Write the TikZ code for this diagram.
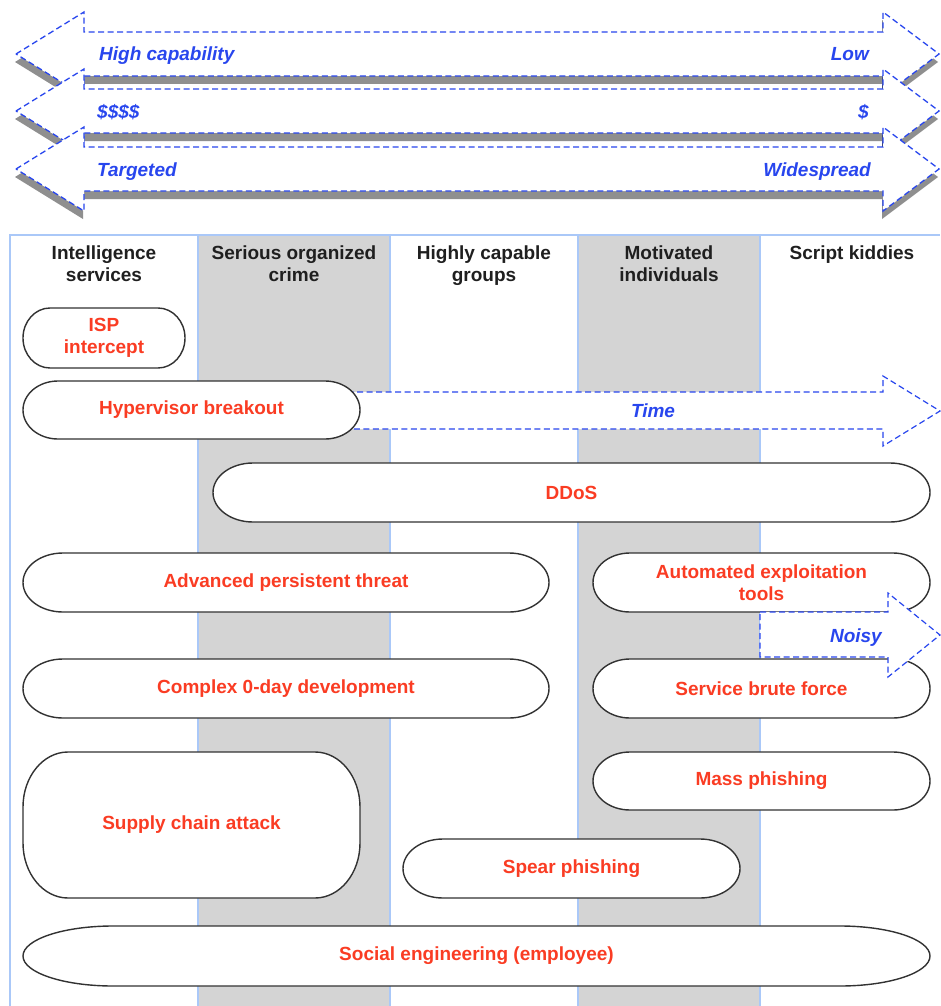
\documentclass[tikz,border=0pt]{standalone}
\usepackage{fontspec}
\setmainfont{Liberation Sans}
\usetikzlibrary{shadows}
\definecolor{lblue}{RGB}{40,70,238}
\definecolor{lred}{RGB}{250,60,35}
\definecolor{colgray}{RGB}{212,212,212}
\definecolor{colline}{RGB}{170,200,248}
\definecolor{pillline}{RGB}{50,50,50}
\pgfdeclarelayer{cols}\pgfdeclarelayer{arrs}\pgfdeclarelayer{pills}
\pgfsetlayers{cols,arrs,pills,main}
\tikzset{
  bigarrow/.style={draw=lblue, dash pattern=on 6pt off 3.5pt, line width=1.3pt, fill=white,
    drop shadow={shadow xshift=-1pt, shadow yshift=-8pt, fill=black!80, opacity=0.55}},
  flatarrow/.style={draw=lblue, dash pattern=on 6pt off 3.5pt, line width=1.2pt, fill=white},
  alabel/.style={text=lblue, font=\fontsize{19}{22}\selectfont\bfseries\itshape, inner sep=0pt},
  header/.style={text=black!88, font=\fontsize{19}{22}\selectfont\bfseries, align=center, anchor=north, inner sep=0pt},
  attack/.style={text=lred, font=\fontsize{19}{22}\selectfont\bfseries, align=center, inner sep=0pt},
  pillstyle/.style={draw=pillline, line width=1.4pt, fill=white},
  colsep/.style={draw=colline, line width=1.1pt},
}
% name, x1, y1, x2, y2, rx, ry, text
\newcommand\mkpill[8]{%
  \begin{pgfonlayer}{pills}
  \draw[pillstyle] (#2+#6,-#3) -- (#4-#6,-#3)
    arc[start angle=90,end angle=0,x radius=#6,y radius=#7] -- (#4,-#5+#7)
    arc[start angle=0,end angle=-90,x radius=#6,y radius=#7] -- (#2+#6,-#5)
    arc[start angle=270,end angle=180,x radius=#6,y radius=#7] -- (#2,-#3-#7)
    arc[start angle=180,end angle=90,x radius=#6,y radius=#7] -- cycle;
  \end{pgfonlayer}
  \node[attack] (#1) at ({(#2+#4)/2},{-(#3+#5)/2}) {#8};
}
% top double arrow, centre y
\newcommand\toparrow[1]{%
  \path[bigarrow] (16,-#1) -- (84,-#1+42) -- (84,-#1+22) -- (883,-#1+22) -- (883,-#1+42)
    -- (939,-#1) -- (883,-#1-42) -- (883,-#1-22) -- (84,-#1-22) -- (84,-#1-42) -- cycle;
}
\begin{document}
\begin{tikzpicture}[x=1pt,y=1pt]
\useasboundingbox (0,0) rectangle (940,-1006);
% columns
\begin{pgfonlayer}{cols}
\fill[white] (0,0) rectangle (940,-1006);
\fill[colgray] (198,-235) rectangle (390,-1006);
\fill[colgray] (578,-235) rectangle (760,-1006);
\draw[colsep] (10,-1006) -- (10,-235) -- (940,-235);
\foreach \xx in {198,390,578,760} \draw[colsep] (\xx,-235) -- (\xx,-1006);
\end{pgfonlayer}
% top scales
\toparrow{54}
\node[alabel, anchor=base west] (hicap) at (99,-61) {High capability};
\node[alabel, anchor=base east] (low) at (869,-61) {Low};
\toparrow{111}
\node[alabel, anchor=base west] (dollars) at (97,-118) {\$\$\$\$};
\node[alabel, anchor=base east] (dollar) at (869,-118) {\$};
\toparrow{169}
\node[alabel, anchor=base west] (targeted) at (97,-176) {Targeted};
\node[alabel, anchor=base east] (widespread) at (871,-176) {Widespread};
\node[header] (h1) at (104,-246) {Intelligence\\services};
\node[header] (h2) at (294,-246) {Serious organized\\crime};
\node[header] (h3) at (484,-246) {Highly capable\\groups};
\node[header] (h4) at (669,-246) {Motivated\\individuals};
\node[header] (h5) at (852,-246) {Script kiddies};
% time arrow (behind the pills)
\begin{pgfonlayer}{arrs}
\path[flatarrow] (300,-392) -- (883,-392) -- (883,-376) -- (940,-411) -- (883,-446) -- (883,-429) -- (300,-429) -- cycle;
\end{pgfonlayer}
\node[alabel, anchor=base] (time) at (653,-417) {Time};
% attacks
\mkpill{isp}{23}{308}{185}{368}{27}{30}{ISP\\intercept}
\mkpill{hyp}{23}{381}{360}{439}{35}{29}{Hypervisor breakout}
\mkpill{ddos}{213}{463}{930}{522}{40}{29.5}{DDoS}
\mkpill{apt}{23}{553}{549}{612}{40}{29.5}{Advanced persistent threat}
\mkpill{aet}{593}{553}{930}{612}{37}{29.5}{Automated exploitation\\tools}
\mkpill{zero}{23}{659}{549}{718}{40}{29.5}{Complex 0-day development}
\mkpill{sbf}{593}{659}{930}{718}{37}{29.5}{Service brute force}
\mkpill{mass}{593}{752}{930}{810}{37}{29}{Mass phishing}
\mkpill{supply}{23}{752}{360}{898}{45}{55}{Supply chain attack}
\mkpill{spear}{403}{839}{740}{898}{40}{29.5}{Spear phishing}
\mkpill{social}{23}{926}{930}{986}{90}{30}{Social engineering (employee)}
% noisy arrow (in front of the pills)
\path[flatarrow] (760,-612) -- (888,-612) -- (888,-593) -- (940,-635) -- (888,-677) -- (888,-657) -- (760,-657) -- cycle;
\node[alabel, anchor=base east] (noisy) at (882,-642) {Noisy};
\end{tikzpicture}
\end{document}
